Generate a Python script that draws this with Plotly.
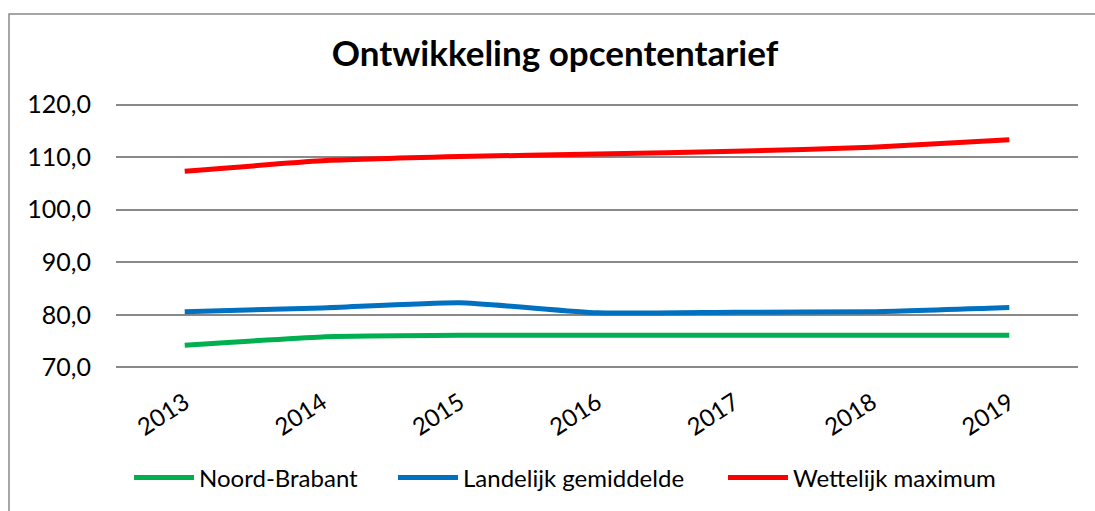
import plotly.graph_objects as go

years = ["2013", "2014", "2015", "2016", "2017", "2018", "2019"]
noord_brabant = [74.2, 75.8, 76.1, 76.1, 76.1, 76.1, 76.1]
landelijk = [80.6, 81.3, 82.3, 80.4, 80.5, 80.6, 81.4]
wettelijk = [107.3, 109.3, 110.1, 110.6, 111.1, 111.9, 113.3]

y_ticks = [70, 80, 90, 100, 110, 120]
y_tick_labels = ["70,0", "80,0", "90,0", "100,0", "110,0", "120,0"]

series = [
    ("Noord-Brabant", noord_brabant, "#00B050", "legend", 137),
    ("Landelijk gemiddelde", landelijk, "#0070C0", "legend2", 401),
    ("Wettelijk maximum", wettelijk, "#FF0000", "legend3", 731),
]

FONT = "Lato"
W, H = 1095, 511
L, R, T, B = 116, 17, 103, 142
pw, ph = W - L - R, H - T - B

fig = go.Figure()
for name, vals, col, lg, _ in series:
    fig.add_trace(go.Scatter(
        x=years, y=vals, name=name, mode="lines", legend=lg,
        line=dict(color=col, width=5, shape="spline", smoothing=0.5),
    ))

legends = {}
for name, vals, col, lg, xs in series:
    legends[lg] = dict(
        orientation="h", x=(xs - 8 - L) / pw, xanchor="left",
        y=-(478 - (T + ph)) / ph, yanchor="middle",
        font=dict(family=FONT, size=24, color="#000000"),
        itemwidth=60, bgcolor="rgba(0,0,0,0)", borderwidth=0,
    )

fig.update_layout(
    width=W, height=H,
    margin=dict(l=L, r=R, t=T, b=B, autoexpand=False),
    paper_bgcolor="white", plot_bgcolor="white",
    font=dict(family=FONT, size=24, color="#000000"),
    title=dict(
        text="<b>Ontwikkeling opcententarief</b>",
        x=555 / W, xanchor="center",
        y=1 - 54 / H, yanchor="middle",
        font=dict(family=FONT, size=35, color="#000000"),
    ),
    showlegend=True,
    xaxis=dict(
        type="category", range=[-0.5, 6.5],
        showgrid=False, showline=False, zeroline=False,
        ticks="", tickangle=-33, ticklabelstandoff=14,
        tickfont=dict(family=FONT, size=24, color="#000000"),
    ),
    yaxis=dict(
        range=[69.7, 120.3], tickvals=y_ticks, ticktext=y_tick_labels,
        showgrid=True, gridcolor="#898989", gridwidth=1.5,
        zeroline=False, showline=False, ticks="",
        ticklabelstandoff=24,
        tickfont=dict(family=FONT, size=25, color="#000000"),
    ),
    shapes=[dict(
        type="rect", xref="paper", yref="paper",
        x0=(9 - L) / pw, x1=(W + 20 - L) / pw,
        y0=-(H + 20 - T - ph) / ph, y1=1 + (T - 14) / ph,
        line=dict(color="#898989", width=1.5), layer="below",
    )],
    **legends,
)

fig.write_html("out.html", config={"displayModeBar": False},
               post_script="document.body.style.margin='0';")
